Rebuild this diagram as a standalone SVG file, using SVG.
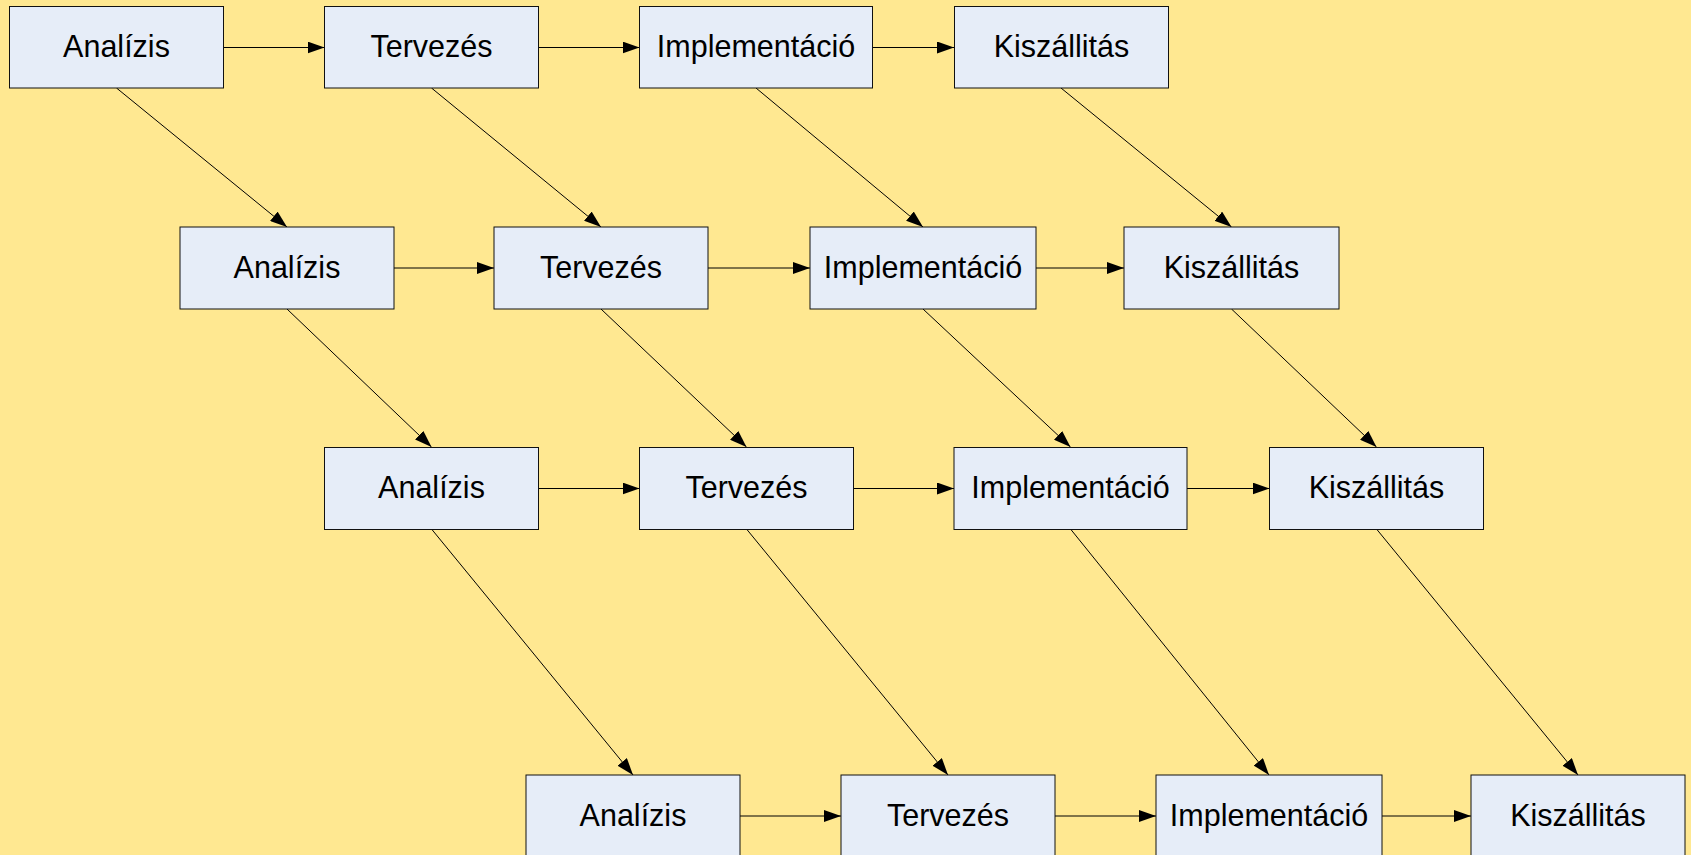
<svg xmlns="http://www.w3.org/2000/svg" width="1691" height="855" viewBox="0 0 1691 855">
<style>
.bg{fill:#FFE891}
.box{fill:#E6EDF8;stroke:#111;stroke-width:1}
.lbl{font-family:"Liberation Sans",Arial,sans-serif;font-size:30.5px;fill:#000;text-anchor:middle}
.c{stroke:#000;stroke-width:1;fill:none;marker-end:url(#ah)}
</style>
<defs>
<marker id="ah" markerUnits="userSpaceOnUse" markerWidth="17" markerHeight="12" refX="17" refY="6" orient="auto">
<path d="M0,0 L17,6 L0,12 Z" fill="#000"/>
</marker>
</defs>
<rect class="bg" x="0" y="0" width="1691" height="855"/>
<g id="connectors">
<line class="c" x1="223.5" y1="47.5" x2="324.5" y2="47.5"/>
<line class="c" x1="538.5" y1="47.5" x2="639.5" y2="47.5"/>
<line class="c" x1="872.5" y1="47.5" x2="954" y2="47.5"/>
<line class="c" x1="394" y1="268" x2="494" y2="268"/>
<line class="c" x1="708" y1="268" x2="810" y2="268"/>
<line class="c" x1="1036" y1="268" x2="1124" y2="268"/>
<line class="c" x1="538.5" y1="488.5" x2="639.5" y2="488.5"/>
<line class="c" x1="853.5" y1="488.5" x2="954" y2="488.5"/>
<line class="c" x1="1187" y1="488.5" x2="1269.5" y2="488.5"/>
<line class="c" x1="740" y1="816" x2="841" y2="816"/>
<line class="c" x1="1055" y1="816" x2="1156" y2="816"/>
<line class="c" x1="1382" y1="816" x2="1471" y2="816"/>
<line class="c" x1="116.5" y1="88" x2="287" y2="227"/>
<line class="c" x1="431.5" y1="88" x2="601" y2="227"/>
<line class="c" x1="756" y1="88" x2="923" y2="227"/>
<line class="c" x1="1061" y1="88" x2="1231.5" y2="227"/>
<line class="c" x1="287" y1="309" x2="431.5" y2="447"/>
<line class="c" x1="601" y1="309" x2="746.5" y2="447"/>
<line class="c" x1="923" y1="309" x2="1070.5" y2="447"/>
<line class="c" x1="1231.5" y1="309" x2="1376.5" y2="447"/>
<line class="c" x1="431.5" y1="529" x2="633" y2="775"/>
<line class="c" x1="746.5" y1="529" x2="948" y2="775"/>
<line class="c" x1="1070.5" y1="529" x2="1269" y2="775"/>
<line class="c" x1="1376.5" y1="529" x2="1578" y2="775"/>
</g>
<g id="r1-analizis"><rect class="box" x="9.5" y="6.5" width="214" height="81.5"/><text class="lbl" x="116.5" y="57">Analízis</text></g>
<g id="r1-tervezes"><rect class="box" x="324.5" y="6.5" width="214" height="81.5"/><text class="lbl" x="431.5" y="57">Tervezés</text></g>
<g id="r1-implementacio"><rect class="box" x="639.5" y="6.5" width="233" height="81.5"/><text class="lbl" x="756" y="57">Implementáció</text></g>
<g id="r1-kiszallitas"><rect class="box" x="954.5" y="6.5" width="214" height="81.5"/><text class="lbl" x="1061.5" y="57">Kiszállitás</text></g>
<g id="r2-analizis"><rect class="box" x="180" y="227" width="214" height="82"/><text class="lbl" x="287" y="278">Analízis</text></g>
<g id="r2-tervezes"><rect class="box" x="494" y="227" width="214" height="82"/><text class="lbl" x="601" y="278">Tervezés</text></g>
<g id="r2-implementacio"><rect class="box" x="810" y="227" width="226" height="82"/><text class="lbl" x="923" y="278">Implementáció</text></g>
<g id="r2-kiszallitas"><rect class="box" x="1124" y="227" width="215" height="82"/><text class="lbl" x="1231.5" y="278">Kiszállitás</text></g>
<g id="r3-analizis"><rect class="box" x="324.5" y="447.5" width="214" height="82"/><text class="lbl" x="431.5" y="498">Analízis</text></g>
<g id="r3-tervezes"><rect class="box" x="639.5" y="447.5" width="214" height="82"/><text class="lbl" x="746.5" y="498">Tervezés</text></g>
<g id="r3-implementacio"><rect class="box" x="954" y="447.5" width="233" height="82"/><text class="lbl" x="1070.5" y="498">Implementáció</text></g>
<g id="r3-kiszallitas"><rect class="box" x="1269.5" y="447.5" width="214" height="82"/><text class="lbl" x="1376.5" y="498">Kiszállitás</text></g>
<g id="r4-analizis"><rect class="box" x="526" y="775" width="214" height="82"/><text class="lbl" x="633" y="826">Analízis</text></g>
<g id="r4-tervezes"><rect class="box" x="841" y="775" width="214" height="82"/><text class="lbl" x="948" y="826">Tervezés</text></g>
<g id="r4-implementacio"><rect class="box" x="1156" y="775" width="226" height="82"/><text class="lbl" x="1269" y="826">Implementáció</text></g>
<g id="r4-kiszallitas"><rect class="box" x="1471" y="775" width="214" height="82"/><text class="lbl" x="1578" y="826">Kiszállitás</text></g>
</svg>
